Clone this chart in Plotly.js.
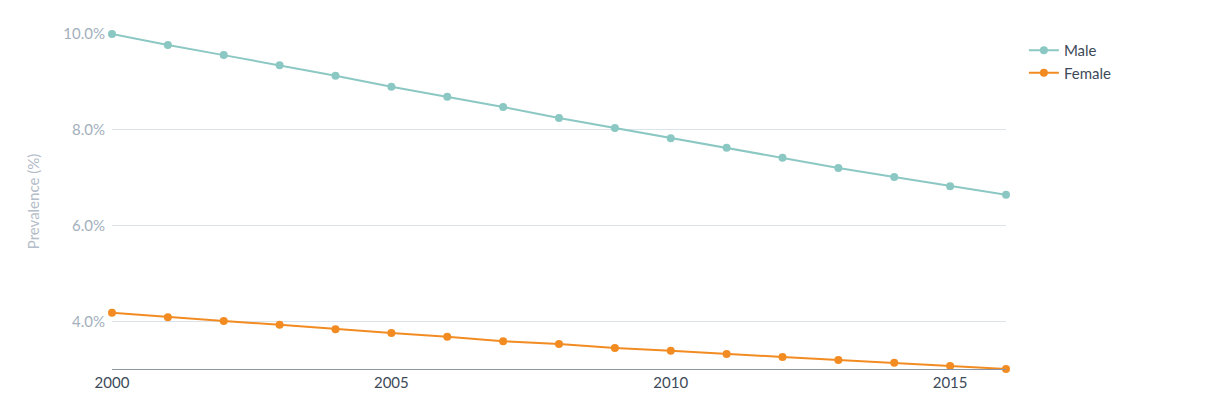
<!DOCTYPE html>
<html>
<head>
<meta charset="utf-8">
<script src="https://cdn.plot.ly/plotly-3.0.1.min.js"></script>
<style>body{margin:0;background:#fff}#chart{width:1230px;height:402px}</style>
</head>
<body>
<div id="chart"></div>
<script>
const years = [2000,2001,2002,2003,2004,2005,2006,2007,2008,2009,2010,2011,2012,2013,2014,2015,2016];
const male = [10.0,9.77,9.56,9.35,9.13,8.90,8.69,8.48,8.25,8.04,7.83,7.63,7.42,7.21,7.02,6.83,6.65];
const female = [4.19,4.10,4.02,3.94,3.85,3.77,3.69,3.60,3.54,3.46,3.40,3.33,3.27,3.21,3.15,3.08,3.02];
const yTicks = [4,6,8,10];

const mk = (name, y, color) => ({
  name, x: years, y, type: "scatter", mode: "lines+markers",
  line: { color, width: 2 }, marker: { color, size: 8 }, cliponaxis: false
});

const layout = {
  width: 1230, height: 402,
  margin: { l: 112, r: 224, t: 34, b: 33 },
  paper_bgcolor: "#fff", plot_bgcolor: "#fff",
  font: { family: "Lato, 'Open Sans', sans-serif", size: 15, color: "#a3afbd" },
  showlegend: true,
  legend: { x: 1.02, y: 1.0, yanchor: "top", font: { size: 15, color: "#3d4a5a" }, itemwidth: 30, tracegroupgap: 2 },
  xaxis: {
    range: [2000, 2016], tickvals: [2000,2005,2010,2015], showgrid: false,
    zeroline: false, showline: true, linecolor: "#8a96a3", linewidth: 1,
    tickfont: { color: "#3d4a5a", size: 15 }, ticks: "", ticklen: 0
  },
  yaxis: {
    range: [3.02, 10.0], tickvals: yTicks, ticktext: yTicks.map(v => v.toFixed(1) + "%"),
    gridcolor: "#dbe4ec", zeroline: false, showline: false, ticks: "",
    ticklabelstandoff: 6,
    title: { text: "Prevalence (%)", font: { size: 15, color: "#b3bcc8" }, standoff: 20 }
  }
};

Plotly.newPlot("chart", [mk("Male", male, "#8cc8c3"), mk("Female", female, "#f28c22")], layout, { displayModeBar: false });
</script>
</body>
</html>
